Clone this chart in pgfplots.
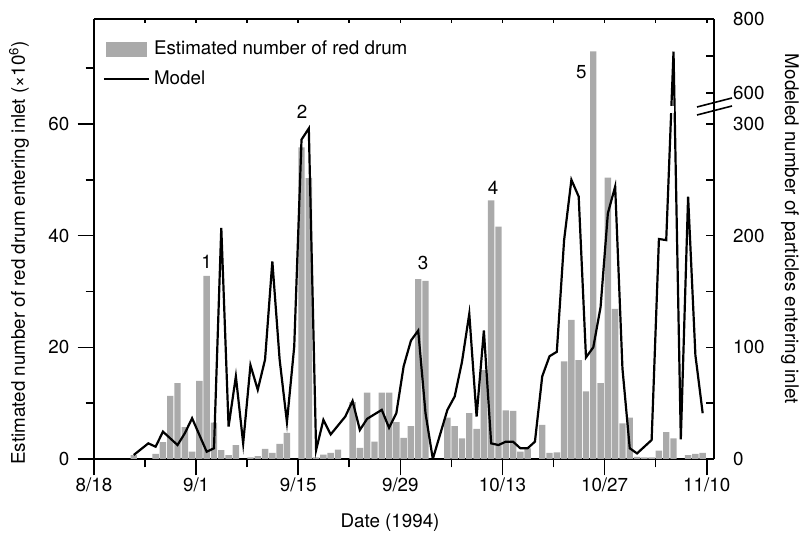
\documentclass[border=0pt]{standalone}
\usepackage{fontspec}
\setmainfont{TeX Gyre Heros}
\usepackage{pgfplots}
\usepackage{pgfplotstable}
\pgfplotsset{compat=1.18}
\definecolor{bargray}{RGB}{170,170,170}

\pgfplotstableread{
d v
5 0.7
8 0.9
9 3.0
10 11.3
11 13.6
12 5.7
13 1.3
14 14.0
15 32.8
16 6.5
17 1.6
18 0.7
19 2.5
21 0.3
22 0.5
23 1.8
24 1.1
25 2.7
26 4.7
28 55.8
29 50.3
30 0.3
31 0.8
32 1.1
33 1.7
35 10.2
36 2.0
37 11.9
38 3.1
39 11.9
40 11.9
41 6.6
42 3.8
43 5.9
44 32.2
45 31.9
48 7.4
49 5.9
50 3.7
51 8.2
52 5.4
53 15.9
54 46.3
55 41.6
56 8.7
57 8.6
58 1.3
59 1.9
61 6.1
62 1.1
63 1.2
64 17.5
65 24.9
66 17.7
67 12.1
68 73.0
69 13.6
70 50.4
71 26.9
72 6.4
73 7.4
74 0.4
75 0.3
76 0.3
77 1.5
78 4.8
79 3.7
81 0.7
82 0.9
83 1.1
}\bardata

\pgfplotstableread{
d r
5 3.6
7 14
8 11
9 24.5
11 12.5
12 23
13 36.5
15 6.5
16 9.6
17 207
18 29
19 74
20 14
21 84
22 62
23 89
24 177
25 89
26 33
27 100.6
28 286
29 296
30 8
31 35
32 22
33 30
34 38
35 52
36 26
37 36
38 40
39 44
40 28
41 41
42 83
43 106
44 115
45 41
46 0
48 44
49 56
50 87
51 130
52 38
53 115
54 14
55 12.5
56 15.5
57 15.5
58 9.6
59 9.6
60 15.5
61 74
62 92
63 96
64 196
65 250
66 235
67 91
68 100
69 136
70 220
71 244
72 81
73 9.6
74 5
75 11
76 17
77 197
78 196
79 712
80 17.6
81 235
82 93
83 41
}\modeldata

\begin{document}
\fontsize{18.8pt}{22pt}\selectfont
\begin{tikzpicture}[font=\fontsize{18.8pt}{22pt}\selectfont]
\useasboundingbox (0,0) rectangle (802pt,537pt);

% main axis: bottom and left
\begin{axis}[
  at={(94pt,78pt)}, anchor=south west,
  width=620pt, height=440pt, scale only axis,
  xmin=0, xmax=85, ymin=0, ymax=78.8,
  axis x line*=bottom, axis y line*=left,
  axis line style={line width=1.6pt, -},
  xtick={0,14,28,42,56,70,84},
  xticklabels={8/18,9/1,9/15,9/29,10/13,10/27,11/10},
  minor xtick={7,21,35,49,63,77},
  ytick={0,20,40,60}, yticklabels={0,20,40,60},
  minor ytick={10,30,50,70},
  tick align=outside,
  major tick length=16.5pt, minor tick length=8.5pt,
  tick style={line width=1.6pt, black},
  /pgf/number format/assume math mode=true,
  xticklabel style={inner sep=0pt, anchor=north, yshift=-2pt},
  yticklabel style={inner sep=0pt, anchor=east, xshift=-8pt},
  legend style={at={(axis description cs:0.014,0.95)}, anchor=north west,
    draw=none, fill=none, inner xsep=0pt, inner ysep=0pt,
    row sep=13pt, column sep=4pt, nodes={inner sep=0pt}},
  legend cell align=left,
]
\addplot[ybar, bar width=0.88, fill=bargray, draw=none,
  legend image code/.code={\fill[bargray] (0pt,-7.5pt) rectangle (41pt,7.5pt);}]
  table[x expr=\thisrow{d}+0.45, y=v] {\bardata};
\addlegendentry{Estimated number of red drum}
\addplot[black, line width=2.2pt, mark=none,
  legend image code/.code={\draw[black, line width=2.2pt] (-2pt,0pt) -- (43pt,0pt);}]
  table[x expr=\thisrow{d}+0.45,
        y expr={\thisrow{r}<=300 ? \thisrow{r}/5 : 65.55+(\thisrow{r}-600)*0.06625}] {\modeldata};
\addlegendentry{Model}
\fill[white] (axis cs:78.5,62.0) rectangle (axis cs:79.5,63.2);
\node at (axis cs:15.43,35.3) {1};
\node at (axis cs:28.54,62.2) {2};
\node at (axis cs:45.12,35.05) {3};
\node at (axis cs:54.71,48.6) {4};
\node at (axis cs:66.83,69.2) {5};
\end{axis}

% top axis line with inward ticks
\begin{axis}[
  at={(94pt,78pt)}, anchor=south west,
  width=620pt, height=440pt, scale only axis,
  xmin=0, xmax=85, ymin=0, ymax=78.8,
  axis x line*=top, hide y axis,
  axis line style={line width=1.6pt, -},
  xtick={0,7,...,84}, xticklabels={},
  tick align=inside, major tick length=4pt,
  tick style={line width=1.6pt, black},
]
\end{axis}

% right axis: modeled particles (broken scale)
\begin{axis}[
  at={(94pt,78pt)}, anchor=south west,
  width=620pt, height=440pt, scale only axis,
  xmin=0, xmax=85, ymin=0, ymax=78.8,
  axis y line*=right, hide x axis,
  axis line style={line width=1.6pt, -},
  ytick={0,10,20,30,40,50,60,65.55,72.18,78.8},
  yticklabels={0,,100,,200,,300,600,,800},
  tick align=inside, major tick length=8pt,
  tick style={line width=1.6pt, black},
  yticklabel style={inner sep=0pt, anchor=west, xshift=19pt},
]
\end{axis}

\draw[line width=1.6pt] (697pt,422pt) -- (732pt,431pt);
\draw[line width=1.6pt] (697pt,430pt) -- (732pt,439pt);

\node[rotate=90] at (19pt,284pt) {Estimated number of red drum entering inlet (×10\textsuperscript{6})};
\node[rotate=-90] at (790pt,308pt) {Modeled number of particles entering inlet};
\node at (390pt,14pt) {Date (1994)};
\end{tikzpicture}
\end{document}
